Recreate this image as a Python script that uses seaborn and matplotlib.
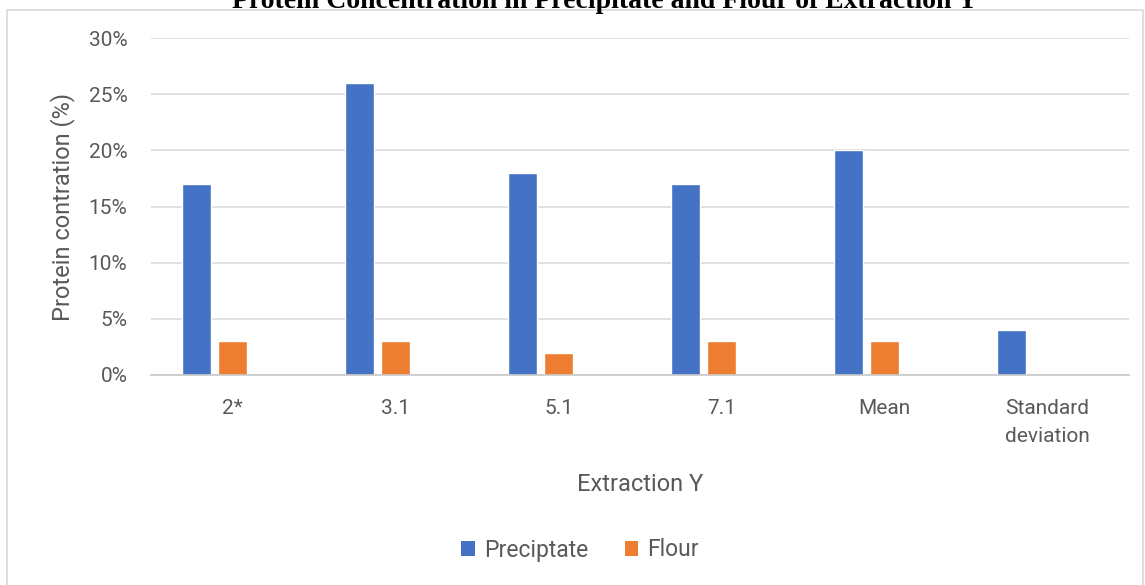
import matplotlib
matplotlib.use("Agg")
import matplotlib.pyplot as plt
from matplotlib.patches import Patch, Rectangle
from matplotlib.ticker import PercentFormatter
import pandas as pd
import seaborn as sns

# Protein concentration (%) per extraction sample
categories = ["2*", "3.1", "5.1", "7.1", "Mean", "Standard\ndeviation"]
precipitate = [17, 26, 18, 17, 20, 4]
flour = [3, 3, 2, 3, 3, None]
series_names = ["Precipitate", "Flour"]
legend_labels = ["Preciptate", "Flour"]
colors = ["#4472C4", "#ED7D31"]

title = "Protein Concentration in Precipitate and Flour of Extraction Y"
y_label = "Protein contration (%)"
x_label = "Extraction Y"

rows = []
for cat, p, f in zip(categories, precipitate, flour):
    rows.append({"cat": cat, "series": series_names[0], "value": p})
    rows.append({"cat": cat, "series": series_names[1], "value": f})
    # empty third slot keeps the chart's three-slot group layout
    rows.append({"cat": cat, "series": "_blank", "value": float("nan")})
df = pd.DataFrame(rows)

sns.set_theme(style="white")
plt.rcParams["font.family"] = ["Roboto", "DejaVu Sans"]

W, H = 1145, 585
fig = plt.figure(figsize=(W / 100, H / 100), dpi=100)
fig.patch.set_facecolor("white")

# outer chart frame
fig.patches.append(Rectangle((7 / W, -0.01), (1143 - 7) / W, 1 - 10 / H + 0.01,
                             transform=fig.transFigure, fill=False,
                             edgecolor="#D9D9D9", linewidth=1.2, zorder=0))

ax = fig.add_axes([151 / W, 210 / H, (1129 - 151) / W, 337 / H])

palette = {series_names[0]: colors[0], series_names[1]: colors[1], "_blank": "white"}
sns.barplot(data=df, x="cat", y="value", hue="series",
            hue_order=series_names + ["_blank"], order=categories,
            palette=palette, width=0.663, gap=0.22, saturation=1,
            legend=False, ax=ax, errorbar=None)

ax.set_ylim(0, 30)
ax.set_yticks(range(0, 31, 5))
ax.yaxis.set_major_formatter(PercentFormatter(decimals=0))
ax.set_xlim(-0.5, len(categories) - 0.5)

ax.grid(axis="y", color="#D9D9D9", linewidth=1.1)
ax.set_axisbelow(True)
for side in ["top", "right", "left"]:
    ax.spines[side].set_visible(False)
ax.spines["bottom"].set_color("#C8C8C8")
ax.spines["bottom"].set_linewidth(1.2)

ax.tick_params(axis="x", length=0, pad=17, labelsize=15, labelcolor="#595959")
ax.tick_params(axis="y", length=0, pad=17, labelsize=15, labelcolor="#595959")
for lbl in ax.get_xticklabels():
    lbl.set_linespacing(1.6)

ax.set_xlabel(x_label, fontsize=17, color="#595959", labelpad=20)
ax.set_ylabel(y_label, fontsize=17, color="#595959", labelpad=10)

handles = [Patch(facecolor=c, edgecolor="none") for c in colors]
fig.legend(handles, legend_labels, loc="center", bbox_to_anchor=(580 / W, 1 - 550 / H),
           ncol=2, frameon=False, fontsize=16.5, labelcolor="#595959",
           handlelength=0.6, handleheight=0.6, handletextpad=0.4, columnspacing=1.6)

fig.text(605 / W, 1 - 8 / H, title, ha="center", va="baseline",
         fontsize=20, fontweight="bold", family=["Liberation Serif", "DejaVu Serif"],
         color="black")

fig.savefig("out.png", dpi=100, facecolor="white")
